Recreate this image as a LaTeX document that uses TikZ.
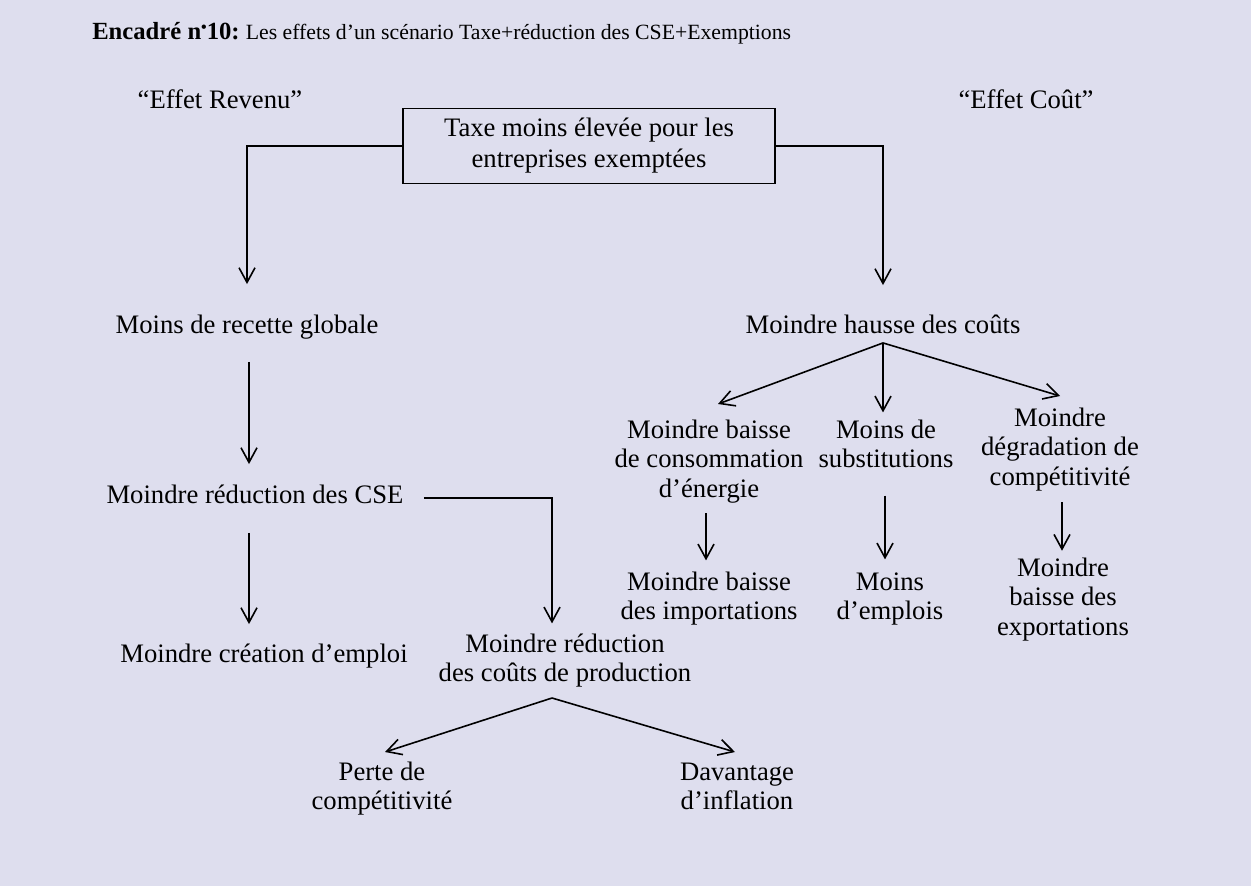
\documentclass[tikz,border=0pt]{standalone}
\usepackage{fontspec}
\setmainfont{Liberation Serif}
\usetikzlibrary{arrows.meta}
\definecolor{bg}{RGB}{222,222,238}
\newlength\pxu \setlength\pxu{0.75pt}
\begin{document}
\begin{tikzpicture}[x=0.75pt,y=-0.75pt,
  lbl/.style={font=\fontsize{20}{22}\selectfont, inner sep=0pt, align=center},
  arr/.style={-{Straight Barb[length=11pt,width=12pt]}, line width=1.2pt},
  ln/.style={line width=1.2pt}]
\path[fill=bg] (0,0) rectangle (1251,886);
% title
\node[anchor=base west, inner sep=0pt] (title) at (92,39)
  {\fontsize{18.5}{20}\selectfont\bfseries Encadré n\raisebox{.6ex}{\fontsize{12}{12}\selectfont •}10:\ \fontsize{16.3}{18}\selectfont\mdseries Les effets d’un scénario Taxe+réduction des CSE+Exemptions};
% nodes
\node[lbl] (revenu) at (220,103) {\strut “Effet Revenu”};
\node[lbl] (cout) at (1026,103) {\strut “Effet Coût”};
\node[lbl, font=\fontsize{20}{23.5}\selectfont, draw, line width=1.2pt, minimum width=372\pxu, minimum height=75\pxu] (box) at (589,146)
  {\strut Taxe moins élevée pour les\\\strut entreprises exemptées};
\node[lbl] (recette) at (247,328) {\strut Moins de recette globale};
\node[lbl] (hausse) at (883,328) {\strut Moindre hausse des coûts};
\node[lbl] (reduc) at (255,498) {\strut Moindre réduction des CSE};
\node[lbl] (creation) at (264,657) {\strut Moindre création d’emploi};
\node[lbl] (prod) at (565,661) {\strut Moindre réduction\\\strut des coûts de production};
\node[lbl] (perte) at (382,789) {\strut Perte de\\\strut compétitivité};
\node[lbl] (davantage) at (737,789) {\strut Davantage\\\strut d’inflation};
\node[lbl] (conso) at (709,462) {\strut Moindre baisse\\\strut de consommation\\\strut d’énergie};
\node[lbl] (subst) at (886,447) {\strut Moins de\\\strut substitutions};
\node[lbl] (degr) at (1060,450) {\strut Moindre\\\strut dégradation de\\\strut compétitivité};
\node[lbl] (imports) at (709,599) {\strut Moindre baisse\\\strut des importations};
\node[lbl] (emplois) at (890,599) {\strut Moins\\\strut d’emplois};
\node[lbl] (exports) at (1063,600) {\strut Moindre\\\strut baisse des\\\strut exportations};
% helper coordinates
\coordinate (colL) at (249,0);
\coordinate (colP) at (552,0);
\coordinate (colC) at (706,0);
\coordinate (colS) at (885,0);
\coordinate (colD) at (1062,0);
\coordinate (apexP) at (552,698);
\coordinate (tipPerte) at (385,752);
\coordinate (tipDav) at (735,752);
\coordinate (tipConso) at (718,404);
\coordinate (tipDegr) at (1060,396);
% connectors
\draw[arr, shorten >=29\pxu] (box.west) -| (recette.north);
\draw[arr, shorten >=28\pxu] (box.east) -| (hausse.north);
\draw[arr, shorten <=19\pxu, shorten >=19\pxu] (recette.south -| colL) -- (reduc.north -| colL);
\draw[arr, shorten <=20\pxu, shorten >=18\pxu] (reduc.south -| colL) -- (creation.north -| colL);
\draw[arr, shorten <=20\pxu, shorten >=8\pxu] (reduc.east) -| (prod.north -| colP);
\draw[arr] (apexP) -- (tipPerte);
\draw[arr] (apexP) -- (tipDav);
\draw[arr] (hausse.south) -- (tipConso);
\draw[arr, shorten >=5\pxu] (hausse.south) -- (hausse.south |- subst.north);
\draw[arr] (hausse.south) -- (tipDegr);
\draw[arr, shorten <=7\pxu, shorten >=9\pxu] (conso.south -| colC) -- (imports.north -| colC);
\draw[arr, shorten <=19\pxu, shorten >=10\pxu] (subst.south -| colS) -- (emplois.north -| colS);
\draw[arr, shorten <=8\pxu, shorten >=5\pxu] (degr.south -| colD) -- (exports.north -| colD);
\end{tikzpicture}
\end{document}
